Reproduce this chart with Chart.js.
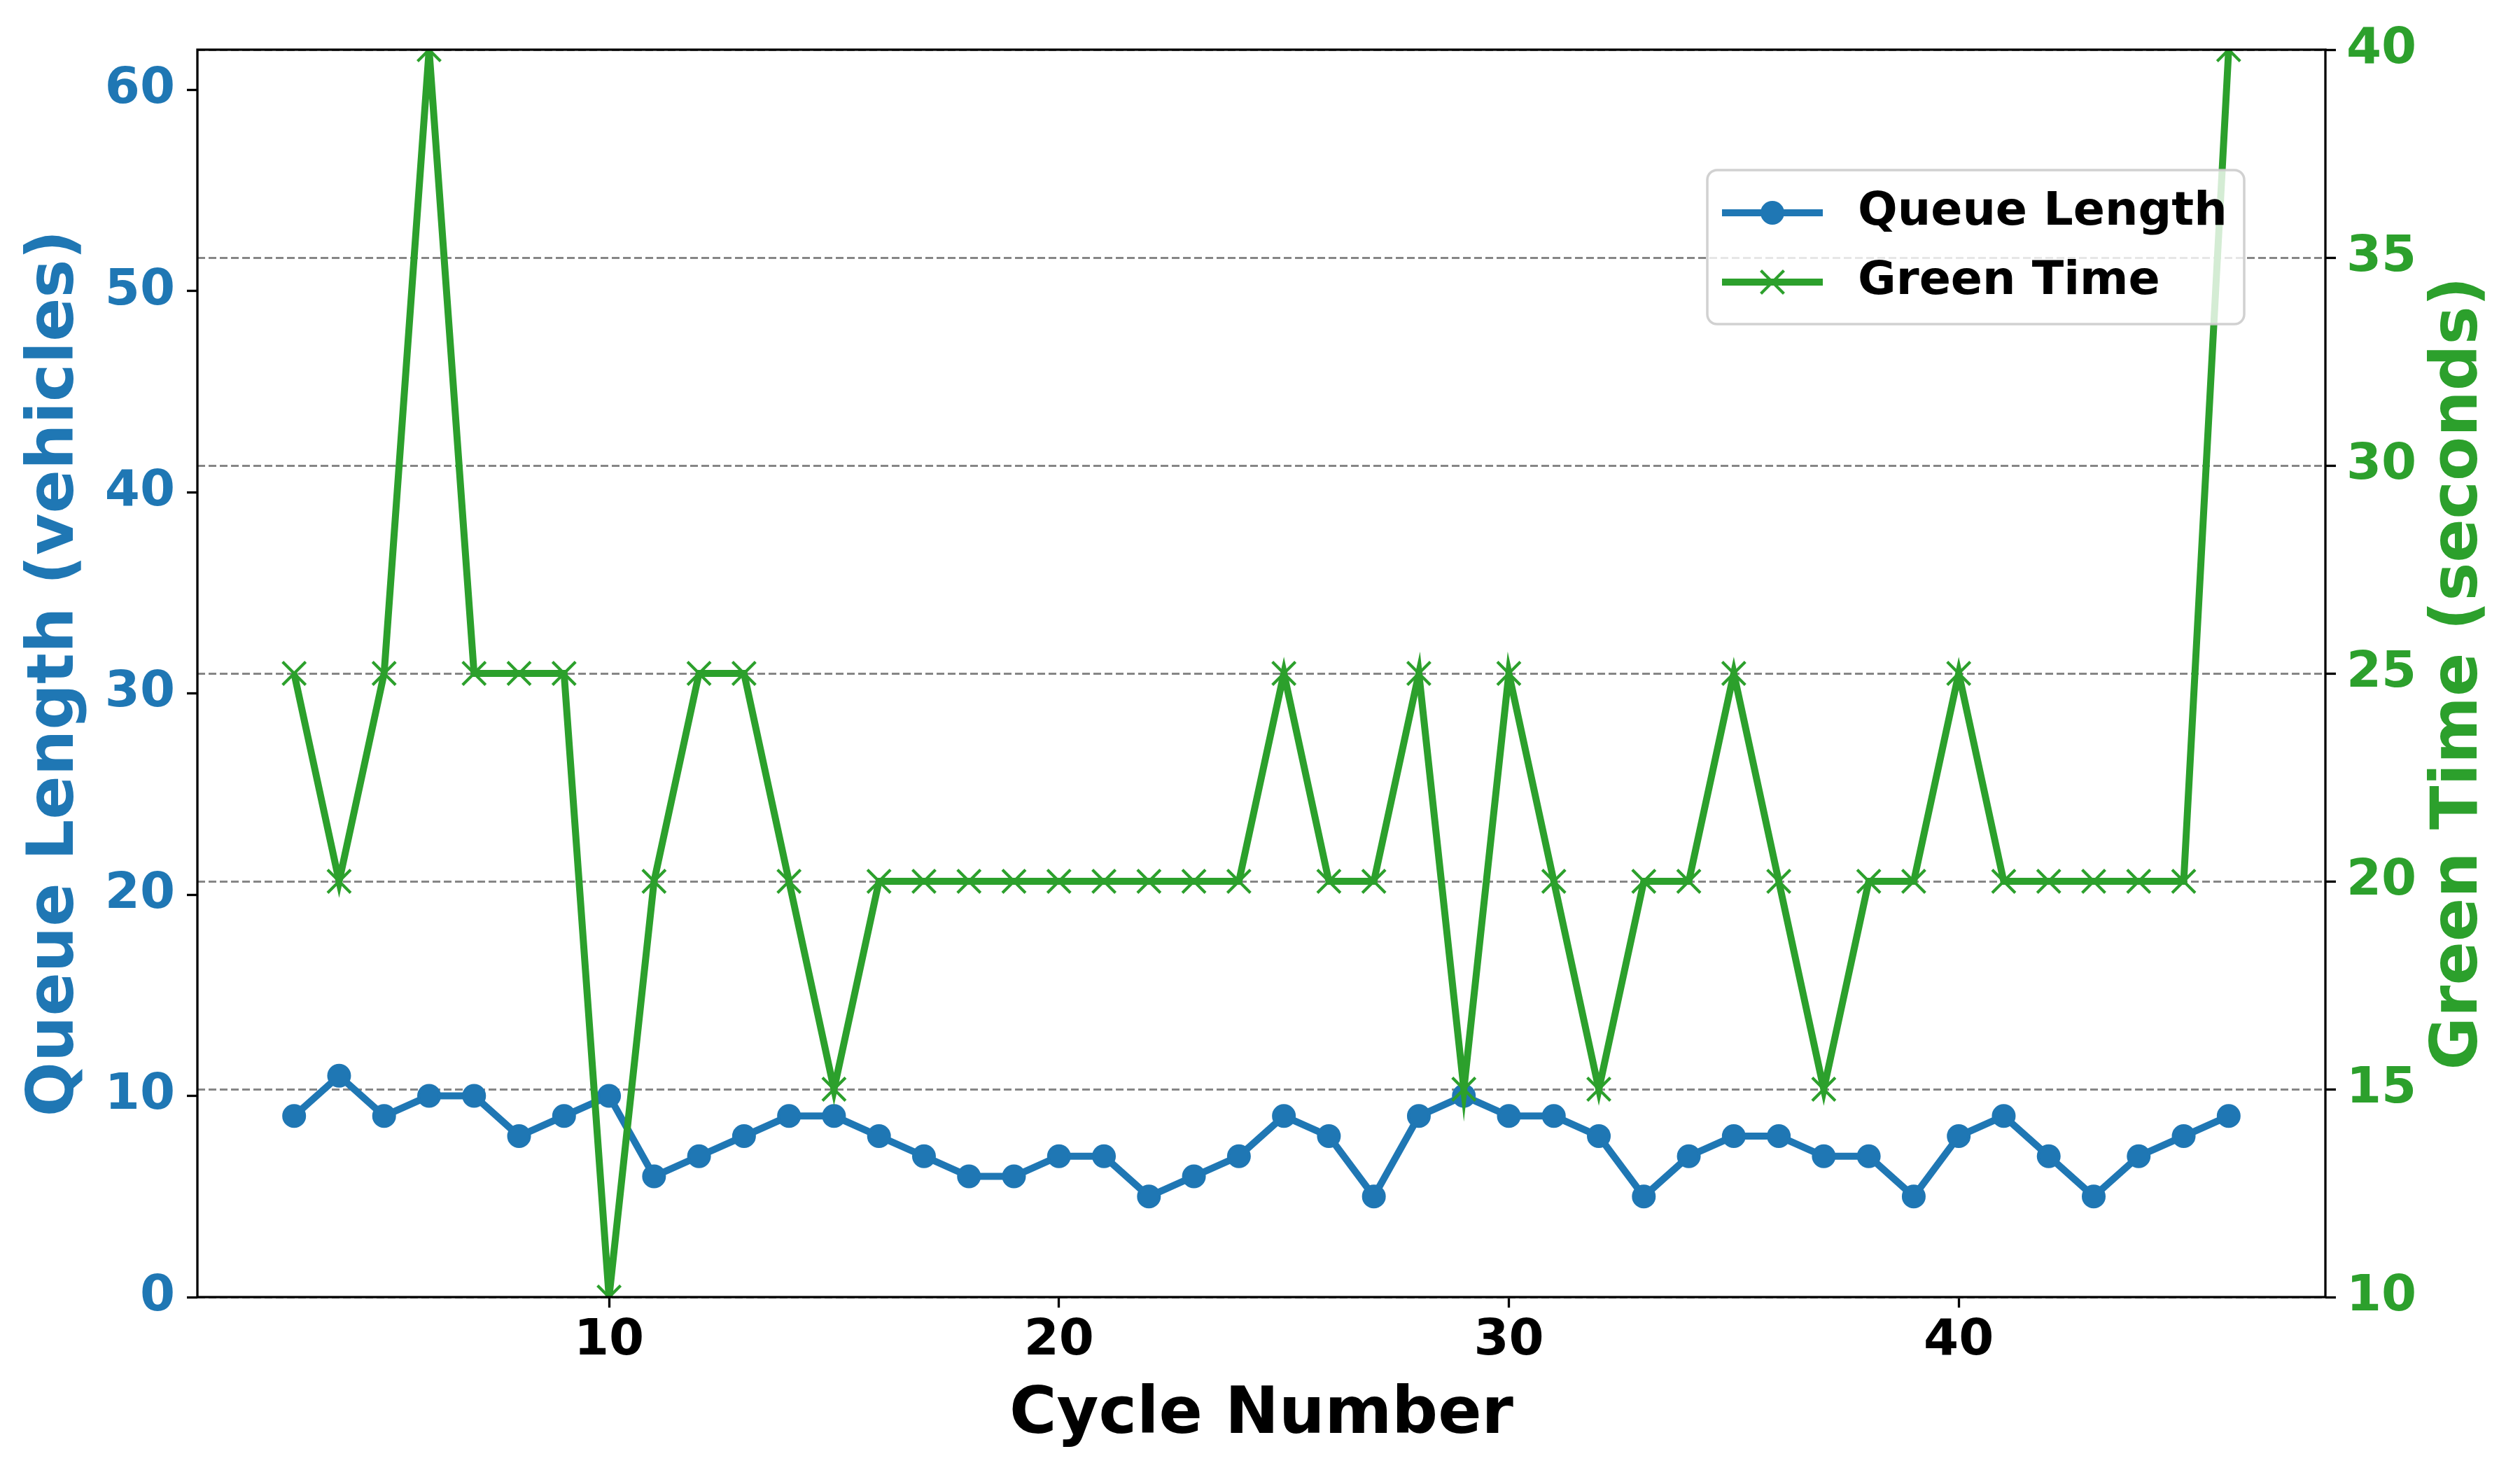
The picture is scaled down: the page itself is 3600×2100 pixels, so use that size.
<!DOCTYPE html>
<html>
<head>
<meta charset="utf-8">
<script src="https://cdn.jsdelivr.net/npm/chart.js@4.4.1/dist/chart.umd.min.js"></script>
<style>
    html, body { margin: 0; padding: 0; background: #fff; }
    #wrap { width: 3600px; height: 2100px; }
</style>
</head>
<body>
<div id="wrap"><canvas id="myChart"></canvas></div>
<script>
const cycles = [3, 4, 5, 6, 7, 8, 9, 10, 11, 12, 13, 14, 15, 16, 17, 18, 19, 20, 21, 22, 23, 24,
    25, 26, 27, 28, 29, 30, 31, 32, 33, 34, 35, 36, 37, 38, 39, 40, 41, 42, 43, 44, 45, 46];
const queueLength = [9, 11, 9, 10, 10, 8, 9, 10, 6, 7, 8, 9, 9, 8, 7, 6, 6, 7, 7, 5, 6, 7,
    9, 8, 5, 9, 10, 9, 9, 8, 5, 7, 8, 8, 7, 7, 5, 8, 9, 7, 5, 7, 8, 9];
const greenTime = [25, 20, 25, 40, 25, 25, 25, 10, 20, 25, 25, 20, 15, 20, 20, 20, 20, 20, 20, 20, 20, 20,
    25, 20, 20, 25, 15, 25, 20, 15, 20, 20, 25, 20, 15, 20, 20, 25, 20, 20, 20, 20, 20, 40];

const cycleTicks = [10, 20, 30, 40];
const queueTicks = [0, 10, 20, 30, 40, 50, 60];
const greenTicks = [10, 15, 20, 25, 30, 35, 40];

const BLUE = '#1f77b4';
const GREEN = '#2ca02c';
const FONT = 'DejaVu Sans';

function toPoints(ys) {
    return cycles.map((c, i) => ({ x: c, y: ys[i] }));
}

// black box round the plot, like the mpl spines
const frame = {
    id: 'frame',
    afterDatasetsDraw(chart) {
        const { ctx, chartArea: a } = chart;
        ctx.save();
        ctx.strokeStyle = '#000';
        ctx.lineWidth = 3.3;
        ctx.strokeRect(a.left, a.top, a.right - a.left, a.bottom - a.top);
        ctx.restore();
    }
};

// right axis title reads bottom to top
const rightTitle = {
    id: 'rightTitle',
    afterDraw(chart) {
        const { ctx, chartArea: a } = chart;
        ctx.save();
        ctx.translate(chart.width - 86, (a.top + a.bottom) / 2);
        ctx.rotate(-Math.PI / 2);
        ctx.font = `bold 92px "${FONT}"`;
        ctx.fillStyle = GREEN;
        ctx.textAlign = 'center';
        ctx.textBaseline = 'middle';
        ctx.fillText('Green Time (seconds)', 0, 0);
        ctx.restore();
    }
};

const legendBox = {
    id: 'legendBox',
    afterDraw(chart) {
        const { ctx, chartArea: a } = chart;
        const x = a.right - 883, y = a.top + 172, w = 767, h = 220, r = 14;
        ctx.save();
        ctx.beginPath();
        ctx.roundRect(x, y, w, h, r);
        ctx.fillStyle = 'rgba(255,255,255,0.8)';
        ctx.fill();
        ctx.strokeStyle = 'rgba(204,204,204,0.9)';
        ctx.lineWidth = 3.5;
        ctx.stroke();

        chart.data.datasets.forEach((ds, i) => {
            const cy = y + 61 + i * 99;
            ctx.strokeStyle = ds.borderColor;
            ctx.lineWidth = ds.borderWidth;
            ctx.beginPath();
            ctx.moveTo(x + 21, cy);
            ctx.lineTo(x + 165, cy);
            ctx.stroke();
            const mx = x + 93;
            if (ds.pointStyle === 'circle') {
                ctx.fillStyle = ds.borderColor;
                ctx.beginPath();
                ctx.arc(mx, cy, ds.pointRadius + ds.pointBorderWidth / 2, 0, Math.PI * 2);
                ctx.fill();
            } else {
                const d = ds.pointRadius * Math.SQRT1_2;
                ctx.lineWidth = ds.pointBorderWidth;
                ctx.beginPath();
                ctx.moveTo(mx - d, cy - d); ctx.lineTo(mx + d, cy + d);
                ctx.moveTo(mx - d, cy + d); ctx.lineTo(mx + d, cy - d);
                ctx.stroke();
            }
            ctx.fillStyle = '#000';
            ctx.font = `bold 66.7px "${FONT}"`;
            ctx.textBaseline = 'middle';
            ctx.textAlign = 'left';
            ctx.fillText(ds.label, x + 215, cy);
        });
        ctx.restore();
    }
};

const tickGrid = { drawOnChartArea: false, drawTicks: true, tickLength: 15, tickWidth: 3.3, tickColor: '#000' };

const ctx = document.getElementById('myChart').getContext('2d');
const myChart = new Chart(ctx, {
    type: 'line',
    data: {
        datasets: [{
            label: 'Queue Length',
            data: toPoints(queueLength),
            yAxisID: 'y',
            borderColor: BLUE,
            backgroundColor: BLUE,
            borderWidth: 10,
            pointStyle: 'circle',
            pointRadius: 15,
            pointBorderWidth: 4,
            pointBackgroundColor: BLUE,
            pointBorderColor: BLUE,
            tension: 0,
            clip: 0,
            order: 2
        }, {
            label: 'Green Time',
            data: toPoints(greenTime),
            yAxisID: 'y2',
            borderColor: GREEN,
            backgroundColor: GREEN,
            borderWidth: 10,
            pointStyle: 'crossRot',
            pointRadius: 23.3,
            pointBorderWidth: 4.2,
            pointBorderColor: GREEN,
            tension: 0,
            clip: 0,
            order: 1
        }]
    },
    options: {
        responsive: true,
        maintainAspectRatio: false,
        devicePixelRatio: 1,
        animation: false,
        layout: { padding: { top: 71, left: 0, right: 0, bottom: 0 } },
        plugins: {
            legend: { display: false },
            tooltip: { enabled: false }
        },
        scales: {
            x: {
                type: 'linear',
                min: 0.85,
                max: 48.15,
                afterBuildTicks: axis => { axis.ticks = cycleTicks.map(v => ({ value: v })); },
                afterFit: axis => { axis.height = 247; },
                grid: tickGrid,
                border: { display: false },
                ticks: {
                    color: '#000',
                    padding: 5,
                    maxRotation: 0,
                    font: { family: FONT, size: 72, weight: 'bold' }
                },
                title: {
                    display: true,
                    text: 'Cycle Number',
                    color: '#000',
                    padding: { top: 0, bottom: 22 },
                    font: { family: FONT, size: 92, weight: 'bold' }
                }
            },
            y: {
                position: 'left',
                min: 0,
                max: 62,
                afterBuildTicks: axis => { axis.ticks = queueTicks.map(v => ({ value: v })); },
                afterFit: axis => { axis.width = 282; },
                grid: tickGrid,
                border: { display: false },
                ticks: {
                    color: BLUE,
                    padding: 17,
                    font: { family: FONT, size: 72, weight: 'bold' }
                },
                title: {
                    display: true,
                    text: 'Queue Length (vehicles)',
                    color: BLUE,
                    padding: { top: 25, bottom: 0 },
                    font: { family: FONT, size: 92, weight: 'bold' }
                }
            },
            y2: {
                position: 'right',
                min: 10,
                max: 40,
                afterBuildTicks: axis => { axis.ticks = greenTicks.map(v => ({ value: v })); },
                afterFit: axis => { axis.width = 278; },
                grid: {
                    drawOnChartArea: true,
                    color: 'rgba(128,128,128,0.95)',
                    lineWidth: 2.9,
                    drawTicks: true,
                    tickLength: 15,
                    tickWidth: 3.3,
                    tickColor: '#000',
                    tickBorderDash: []
                },
                border: { display: false, dash: [11, 5] },
                ticks: {
                    color: GREEN,
                    padding: 15,
                    font: { family: FONT, size: 72, weight: 'bold' }
                }
            }
        }
    },
    plugins: [frame, legendBox, rightTitle]
});
</script>
</body>
</html>
